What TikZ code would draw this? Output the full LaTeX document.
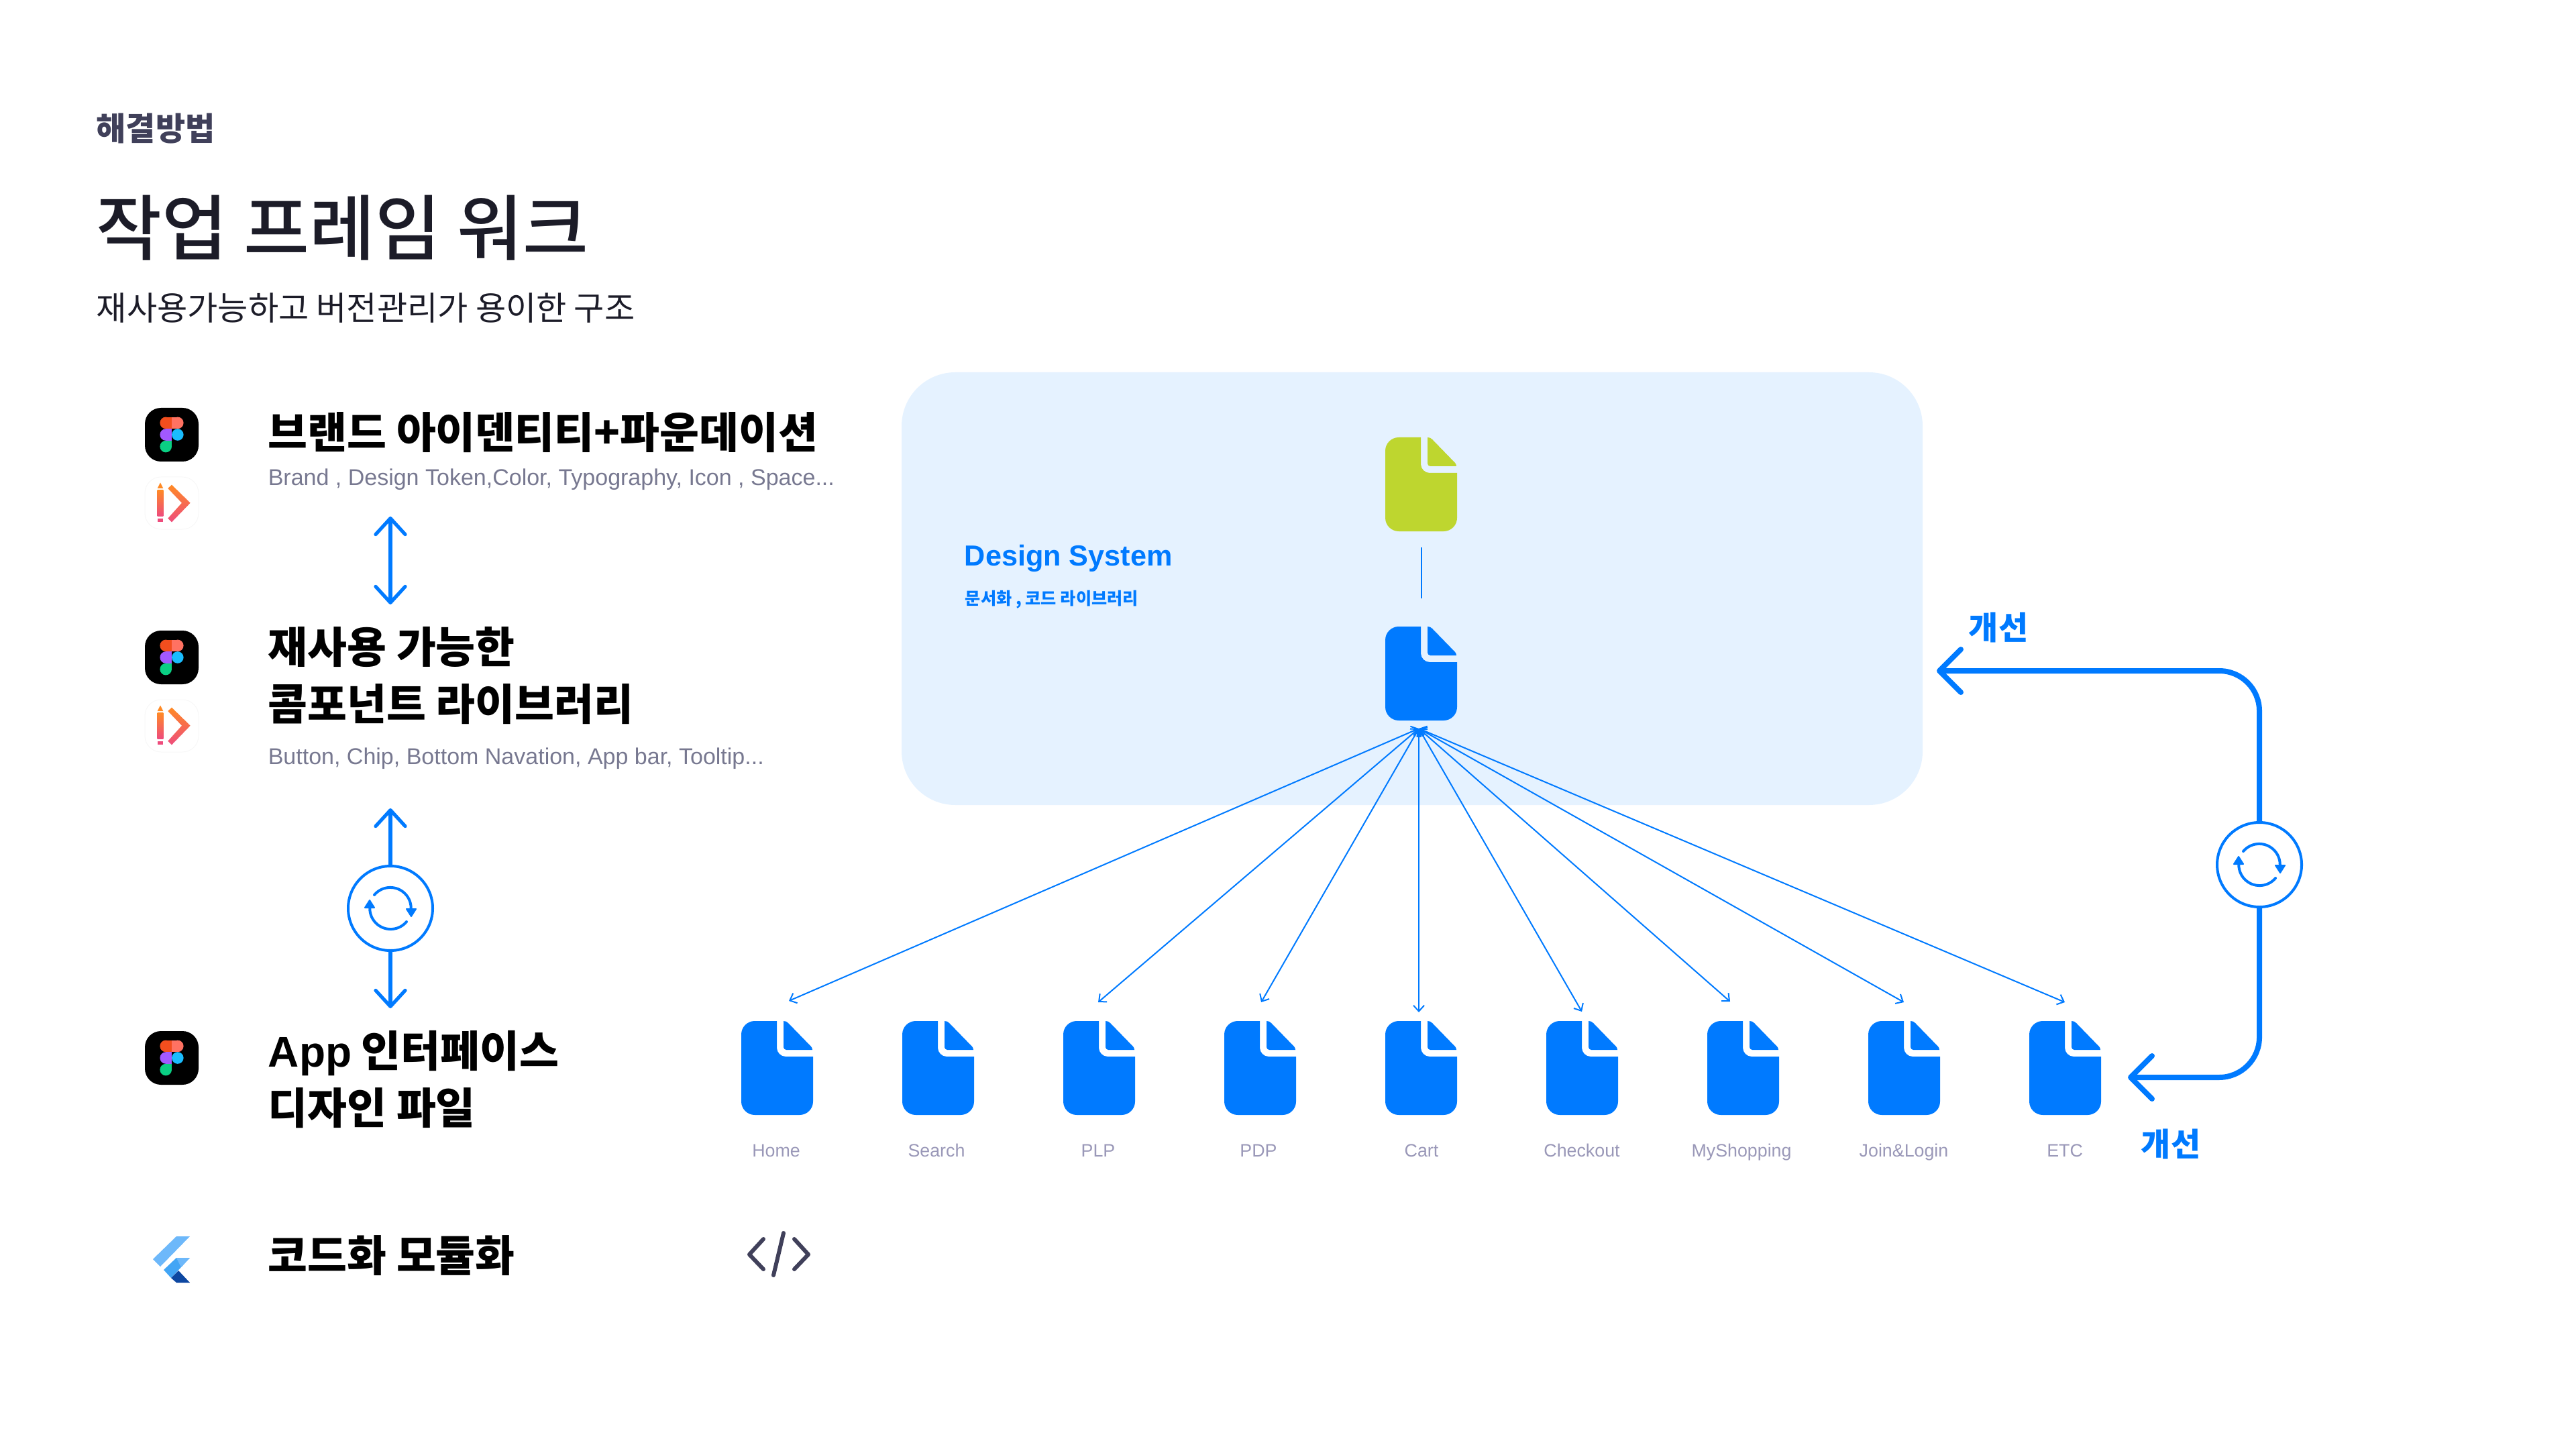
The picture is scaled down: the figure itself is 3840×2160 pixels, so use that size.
\documentclass[tikz,border=0pt]{standalone}
\usepackage{fontspec}
\usetikzlibrary{arrows.meta,calc,positioning}
\setmainfont{Liberation Sans}
\newfontfamily\krfont{Noto Sans CJK KR}
\newfontfamily\krmedium{Noto Sans CJK KR Medium}
\definecolor{KeyBlue}{HTML}{007AFF}
\definecolor{PanelBlue}{HTML}{E5F2FF}
\definecolor{LimeDoc}{HTML}{BED62F}
\definecolor{InkDark}{HTML}{1C1C28}
\definecolor{InkSlate}{HTML}{40405A}
\definecolor{SubGrey}{HTML}{777890}
\definecolor{LabelGrey}{HTML}{9A98B8}
\definecolor{FigA}{HTML}{F24E1E}
\definecolor{FigB}{HTML}{FF7262}
\definecolor{FigC}{HTML}{A259FF}
\definecolor{FigD}{HTML}{1ABCFE}
\definecolor{FigE}{HTML}{0ACF83}
\definecolor{PenTop}{HTML}{FF8A25}
\definecolor{PenLow}{HTML}{EE4C7C}
\definecolor{FlutLight}{HTML}{6DB8FA}
\definecolor{FlutMid}{HTML}{42A5F5}
\definecolor{FlutDark}{HTML}{0D47A1}
\tikzset{
  docbox/.style={minimum width=26.75pt,minimum height=35pt,inner sep=0pt,outer sep=0pt,anchor=north west},
  docicon/.pic={
    \fill[#1] (20,0) -- (53,0) -- (53,40) .. controls (53,47) and (59,53) .. (66,53) -- (107,53) -- (107,120)
      .. controls (107,131) and (98,140) .. (87,140) -- (20,140) .. controls (9,140) and (0,131) .. (0,120)
      -- (0,20) .. controls (0,9) and (9,0) .. (20,0) -- cycle;
    \fill[#1] (63,0) .. controls (66,0) and (68,1) .. (70,3) -- (104,38) .. controls (105,39) and (106,41) .. (106,43)
      -- (67,43) .. controls (65,43) and (63,41) .. (63,39) -- cycle;
  },
  headtext/.style={anchor=base west,inner sep=0pt,text=black,font=\fontsize{16}{20}\selectfont\krfont\bfseries},
  subtext/.style={anchor=base west,inner sep=0pt,text=SubGrey,font=\fontsize{8.5}{11}\selectfont},
  pagelabel/.style={anchor=base,inner sep=0pt,text=LabelGrey,font=\fontsize{6.7}{9}\selectfont},
  bluetag/.style={anchor=base west,inner sep=0pt,text=KeyBlue,font=\fontsize{12}{14}\selectfont\krfont\bfseries},
  syncring/.style={circle,draw=KeyBlue,line width=1pt,minimum size=31.5pt,inner sep=0pt,outer sep=0pt},
  linkthin/.style={draw=KeyBlue,line width=1.3pt,{Straight Barb[round,length=6pt,width=11pt]}-{Straight Barb[round,length=6pt,width=11pt]}},
  linkbar/.style={draw=KeyBlue,line width=1.3pt,-{Straight Barb[round,length=6pt,width=11pt]}},
  linkbold/.style={draw=KeyBlue,line width=2pt,rounded corners=15pt,-{Straight Barb[round,length=8pt,width=16pt]}},
  feed/.style={draw=KeyBlue,line width=.5pt,{Straight Barb[length=2.2pt,width=4pt]}-{Straight Barb[length=2.2pt,width=4pt]}},
  syncicon/.pic={
    \draw[KeyBlue,line width=1pt,line cap=round] (-24,-20) arc[start angle=220,end angle=360,radius=31];
    \draw[KeyBlue,line width=1pt,line cap=round] (24,20) arc[start angle=40,end angle=180,radius=31];
    \filldraw[KeyBlue,line width=.5pt,line join=round] (24,1) -- (38,1) -- (31,12) -- cycle;
    \filldraw[KeyBlue,line width=.5pt,line join=round] (-24,-1) -- (-38,-1) -- (-31,-12) -- cycle;
  },
  figmaicon/.pic={
    \fill[black,rounded corners=6pt] (0,0) rectangle (80,80);
    \fill[FigA] (31.2,22.4) circle[radius=8.8];
    \fill[FigA] (31.2,13.6) rectangle (40,31.2);
    \fill[FigB] (48.8,22.4) circle[radius=8.8];
    \fill[FigB] (40,13.6) rectangle (48.8,31.2);
    \fill[FigC] (31.2,40) circle[radius=8.8];
    \fill[FigC] (31.2,31.2) rectangle (40,48.8);
    \fill[FigD] (48.8,40) circle[radius=8.8];
    \fill[FigE] (31.2,57.6) circle[radius=8.8];
    \fill[FigE] (31.2,48.8) rectangle (40,57.6);
  },
  pencilicon/.pic={
    \draw[black!3,line width=.25pt,rounded corners=6pt] (0,0) rectangle (80,78);
    \fill[PenTop] (18.7,17) -- (23,8.5) -- (27.3,17) -- cycle;
    \shade[top color=PenTop,bottom color=PenLow] (18.7,19) rectangle (27.3,58);
    \fill[PenLow] (18.7,62) rectangle (27.3,67);
    \shade[top color=PenTop,bottom color=PenLow] (40,11.7) -- (67.7,38.7) -- (40,67.3) -- (34.3,61.7) -- (55,38.7) -- (34.3,17) -- cycle;
  },
}
\begin{document}
\begin{tikzpicture}[x=.25pt,y=-.25pt]
  \useasboundingbox (0,0) rectangle (3840,2160);
  % header
  \node[anchor=base west,inner sep=0pt,text=InkSlate,font=\fontsize{12}{14}\selectfont\krfont\bfseries] (kicker) at (143,210) {해결방법};
  \node[anchor=base west,inner sep=0pt,text=InkDark,font=\fontsize{26.6}{32}\selectfont\krmedium] (title) at (143,380) {작업 프레임 워크};
  \node[anchor=base west,inner sep=0pt,text=InkDark,font=\fontsize{12.3}{15}\selectfont\krfont] (lead) at (143,478) {재사용가능하고 버전관리가 용이한 구조};
  % left column
  \pic at (216,608) {figmaicon};
  \pic at (216,711) {pencilicon};
  \pic at (216,940) {figmaicon};
  \pic at (216,1043) {pencilicon};
  \pic at (216,1537) {figmaicon};
  \node[headtext] (brand) at (399,669) {브랜드 아이덴티티+파운데이션};
  \node[subtext] (brandSub) at (399,724) {Brand , Design Token,Color, Typography, Icon , Space...};
  \node[headtext] (reuse) at (399,988) {재사용 가능한};
  \node[headtext] (library) at (399,1073) {콤포넌트 라이브러리};
  \node[subtext] (librarySub) at (399,1139) {Button, Chip, Bottom Navation, App bar, Tooltip...};
  \node[headtext] (appDesign) at (399,1590) {{\rmfamily App} 인터페이스};
  \node[headtext] (designFile) at (399,1675) {디자인 파일};
  \node[headtext] (coding) at (399,1895) {코드화 모듈화};
  \coordinate (brandTip) at (582,770);
  \coordinate (libraryTip) at (582,901);
  \draw[linkthin] (brandTip) -- (libraryTip);
  \node[syncring] (leftRing) at (582,1354) {};
  \pic at (leftRing) {syncicon};
  \coordinate (leftUp) at (582,1205);
  \coordinate (leftDown) at (582,1503);
  \draw[linkbar] (leftRing) -- (leftUp);
  \draw[linkbar] (leftRing) -- (leftDown);
  % flutter mark
  \fill[FlutLight] (263,1843) -- (283,1843) -- (239,1888) -- (228,1877) -- cycle;
  \fill[FlutMid] (263,1875) -- (283,1875) -- (255,1905) -- (244,1893) -- cycle;
  \fill[FlutLight] (263,1875) -- (283,1875) -- (270,1889) -- cycle;
  \fill[FlutDark] (266,1894) -- (283,1912) -- (263,1912) -- (255,1905) -- cycle;
  \draw[InkSlate,line width=1.5pt,line cap=round,line join=round] (1138,1847) -- (1117,1870) -- (1138,1892);
  \draw[InkSlate,line width=1.5pt,line cap=round] (1168,1838) -- (1153,1901);
  \draw[InkSlate,line width=1.5pt,line cap=round,line join=round] (1184,1847) -- (1205,1870) -- (1184,1892);
  % design system panel
  \fill[PanelBlue,rounded corners=20pt] (1344,555) rectangle (2866,1200);
  \node[anchor=base west,inner sep=0pt,text=KeyBlue,font=\fontsize{10.8}{14}\selectfont\bfseries] (dsTitle) at (1437,843) {Design System};
  \node[anchor=base west,inner sep=0pt,text=KeyBlue,font=\fontsize{6.3}{9}\selectfont\krfont\bfseries] (dsSub) at (1438,901) {문서화 , 코드 라이브러리};
  \node[docbox] (token) at (2065,652) {};
  \pic at (token.north west) {docicon=LimeDoc};
  \node[docbox] (system) at (2065,934) {};
  \pic at (system.north west) {docicon=KeyBlue};
  \draw[KeyBlue,line width=.5pt,shorten <=6pt,shorten >=10.5pt] (token) -- (system);
  % page files
  \foreach \nm/\docx/\labx/\lab in {home/1105/1157/Home,search/1345/1396/Search,plp/1585/1637/PLP,pdp/1825/1876/PDP,cart/2065/2119/Cart,checkout/2305/2358/Checkout,shopping/2545/2596/MyShopping,join/2785/2838/Join\&Login,etc/3025/3078/ETC}
  {
    \node[docbox] (\nm) at (\docx,1522) {};
    \pic at (\nm.north west) {docicon=KeyBlue};
    \node[pagelabel] (\nm Label) at (\labx,1724) {\lab};
  }
  \coordinate (hub) at (2115,1086);
  \foreach \nm/\tipx/\tipy in {home/1176/1492,plp/1637/1494,pdp/1880/1494,cart/2115/1509,checkout/2358/1508,shopping/2579/1493,join/2838/1494,etc/3078/1494}
  {
    \coordinate (\nm Tip) at (\tipx,\tipy);
    \draw[feed] (hub) -- (\nm Tip);
  }
  % improvement loop
  \node[syncring] (rightRing) at (3368,1289) {};
  \pic at (rightRing) {syncicon};
  \coordinate (panelTip) at (2887,1000);
  \coordinate (etcTip) at (3172,1606);
  \draw[linkbold] (rightRing) |- (panelTip);
  \draw[linkbold] (rightRing) |- (etcTip);
  \node[bluetag] (fixTop) at (2934,953) {개선};
  \node[bluetag] (fixLow) at (3191,1723) {개선};
\end{tikzpicture}
\end{document}
